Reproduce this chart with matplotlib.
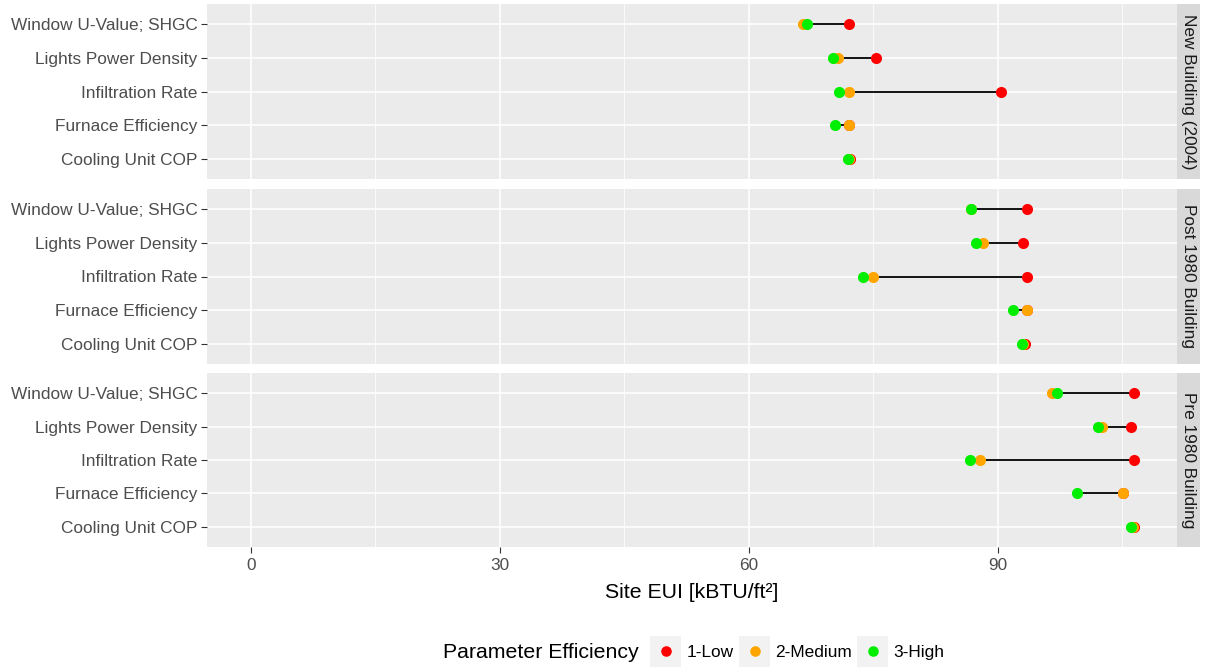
import matplotlib
matplotlib.use("Agg")
import matplotlib.pyplot as plt
from matplotlib.lines import Line2D
from matplotlib.patches import Rectangle

plt.rcParams['font.family'] = ['Liberation Sans', 'DejaVu Sans']

categories = ["Window U-Value; SHGC", "Lights Power Density", "Infiltration Rate",
              "Furnace Efficiency", "Cooling Unit COP"]
buildings = ["New Building (2004)", "Post 1980 Building", "Pre 1980 Building"]
levels = ["1-Low", "2-Medium", "3-High"]
level_colors = ["#FF0000", "#FFA500", "#00EE00"]

# values per building, per category, order: Low, Medium, High
new_low = [72.1, 75.3, 90.4, 72.1, 72.2]
new_med = [66.5, 70.8, 72.1, 72.1, 72.1]
new_high = [67.0, 70.2, 70.9, 70.4, 71.9]

post_low = [93.5, 93.0, 93.5, 93.5, 93.3]
post_med = [86.8, 88.2, 75.0, 93.5, 93.1]
post_high = [86.8, 87.4, 73.7, 91.8, 92.9]

pre_low = [106.4, 106.0, 106.4, 105.1, 106.4]
pre_med = [96.5, 102.6, 87.9, 105.1, 106.3]
pre_high = [97.1, 102.1, 86.6, 99.6, 106.1]

data = [
    (new_low, new_med, new_high),
    (post_low, post_med, post_high),
    (pre_low, pre_med, pre_high),
]

W, H = 1208, 668
fig = plt.figure(figsize=(W / 100, H / 100), dpi=100)
fig.patch.set_facecolor("white")

left_px, right_px = 207, 1177
panels_px = [(4, 179), (189, 364), (373, 547)]
strip_w = 23
FS = 12.4
TS = 15.3

ypos = list(range(len(categories)))[::-1]
xmin, xmax = -5.3, 111.6

for i, ((top, bot), vals) in enumerate(zip(panels_px, data)):
    ax = fig.add_axes([left_px / W, 1 - bot / H, (right_px - left_px) / W, (bot - top) / H])
    ax.set_facecolor("#EBEBEB")
    for s in ax.spines.values():
        s.set_visible(False)
    ax.set_xlim(xmin, xmax)
    ax.set_ylim(-0.6, 4.6)
    ax.set_xticks([0, 30, 60, 90])
    ax.set_xticks([15, 45, 75, 105], minor=True)
    ax.set_yticks(ypos)
    ax.set_yticklabels(categories, fontsize=FS, color="#4D4D4D")
    ax.grid(True, which="major", color="white", linewidth=1.1)
    ax.grid(True, which="minor", axis="x", color="white", linewidth=0.55)
    ax.set_axisbelow(True)
    ax.tick_params(axis="both", which="major", length=4, width=0.8, color="#333333", pad=3)
    ax.tick_params(axis="x", which="minor", length=0)
    if i < 2:
        ax.tick_params(axis="x", which="major", labelbottom=False, length=0)
    else:
        ax.tick_params(axis="x", labelsize=FS, labelcolor="#4D4D4D", pad=4)
        ax.set_xlabel("Site EUI [kBTU/ft²]", fontsize=TS, color="black", labelpad=7)
    low, med, high = vals
    for y, a, b, c in zip(ypos, low, med, high):
        ax.plot([min(a, b, c), max(a, b, c)], [y, y], color="black", linewidth=1.3, zorder=2)
    for series, col in zip((low, med, high), level_colors):
        ax.scatter(series, ypos, s=64, color=col, zorder=3, linewidths=0)
    # strip
    sax = fig.add_axes([right_px / W, 1 - bot / H, strip_w / W, (bot - top) / H])
    sax.set_facecolor("#D9D9D9")
    sax.set_xticks([]); sax.set_yticks([])
    for s in sax.spines.values():
        s.set_visible(False)
    sax.text(0.5, 0.5, buildings[i], rotation=-90, ha="center", va="center",
             fontsize=FS, color="#1A1A1A", transform=sax.transAxes)

# legend (bottom)
ly = 1 - 651 / H
fig.text(443 / W, ly, "Parameter Efficiency", fontsize=TS, ha="left", va="center_baseline")
key_x = [665.5, 754.5, 872.5]
for kx, lab, col in zip(key_x, levels, level_colors):
    fig.patches.append(Rectangle(((kx - 15.5) / W, ly - 15.5 / H), 31 / W, 31 / H,
                                 transform=fig.transFigure, facecolor="#F2F2F2",
                                 edgecolor="none"))
    fig.lines.append(Line2D([kx / W], [ly], marker="o", markersize=7.6, color=col,
                            markeredgewidth=0, linestyle="none",
                            transform=fig.transFigure))
    fig.text((kx + 21) / W, ly, lab, fontsize=FS, ha="left", va="center_baseline")

fig.savefig("out.png", dpi=100)
